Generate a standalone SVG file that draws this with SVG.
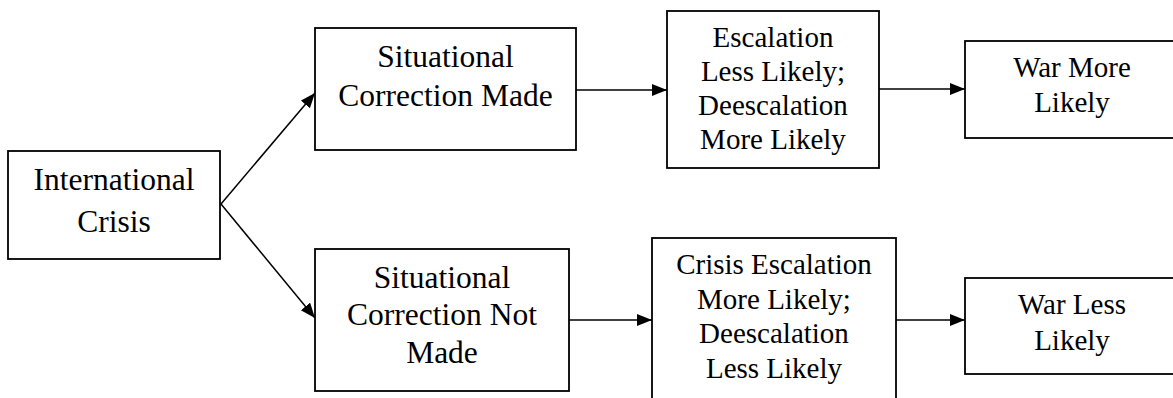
<svg xmlns="http://www.w3.org/2000/svg" width="1173" height="398" viewBox="0 0 1173 398" font-family="Liberation Serif, Tinos, Times New Roman, DejaVu Serif, Noto Serif, serif">
  <style>
    .box { fill: #ffffff; stroke: #000000; stroke-width: 1.8; }
    .lbl { fill: #000000; text-anchor: middle; }
    .big { font-size: 31.5px; }
    .mid { font-size: 29px; }
    .link { stroke: #000000; stroke-width: 1.5; fill: none; marker-end: url(#arrow); }
  </style>
  <defs>
    <marker id="arrow" markerUnits="userSpaceOnUse" markerWidth="16" markerHeight="13" refX="15" refY="6" orient="auto">
      <path d="M0,0 L15,6 L0,12 Z" fill="#000000"/>
    </marker>
  </defs>
  <rect width="1173" height="398" fill="#ffffff"/>

  <g id="connectors">
    <line class="link" x1="221" y1="204" x2="315" y2="93"/>
    <line class="link" x1="221" y1="204" x2="315" y2="318"/>
    <line class="link" x1="576" y1="90" x2="667" y2="90"/>
    <line class="link" x1="879" y1="89" x2="965" y2="89"/>
    <line class="link" x1="569" y1="320" x2="652" y2="320"/>
    <line class="link" x1="896" y1="320" x2="965" y2="320"/>
  </g>

  <g id="international-crisis">
    <rect class="box" x="8" y="151" width="212" height="108"/>
    <text class="lbl big" x="114" y="190">International</text>
    <text class="lbl big" x="114" y="232">Crisis</text>
  </g>

  <g id="correction-made">
    <rect class="box" x="315" y="28" width="261" height="122"/>
    <text class="lbl big" x="445.5" y="67">Situational</text>
    <text class="lbl big" x="445.5" y="106">Correction Made</text>
  </g>

  <g id="escalation-less-likely">
    <rect class="box" x="667" y="11" width="212" height="157"/>
    <text class="lbl mid" x="773" y="47">Escalation</text>
    <text class="lbl mid" x="773" y="81">Less Likely;</text>
    <text class="lbl mid" x="773" y="115">Deescalation</text>
    <text class="lbl mid" x="773" y="149">More Likely</text>
  </g>

  <g id="war-more-likely">
    <rect class="box" x="965" y="41" width="212" height="97"/>
    <text class="lbl mid" x="1072" y="77">War More</text>
    <text class="lbl mid" x="1072" y="112">Likely</text>
  </g>

  <g id="correction-not-made">
    <rect class="box" x="315" y="249" width="254" height="142"/>
    <text class="lbl big" x="442" y="288">Situational</text>
    <text class="lbl big" x="442" y="325">Correction Not</text>
    <text class="lbl big" x="442" y="363">Made</text>
  </g>

  <g id="escalation-more-likely">
    <rect class="box" x="652" y="238" width="244" height="175"/>
    <text class="lbl mid" x="774" y="274">Crisis Escalation</text>
    <text class="lbl mid" x="774" y="309">More Likely;</text>
    <text class="lbl mid" x="774" y="343">Deescalation</text>
    <text class="lbl mid" x="774" y="378">Less Likely</text>
  </g>

  <g id="war-less-likely">
    <rect class="box" x="965" y="278" width="212" height="96"/>
    <text class="lbl mid" x="1072" y="314">War Less</text>
    <text class="lbl mid" x="1072" y="350">Likely</text>
  </g>
</svg>
